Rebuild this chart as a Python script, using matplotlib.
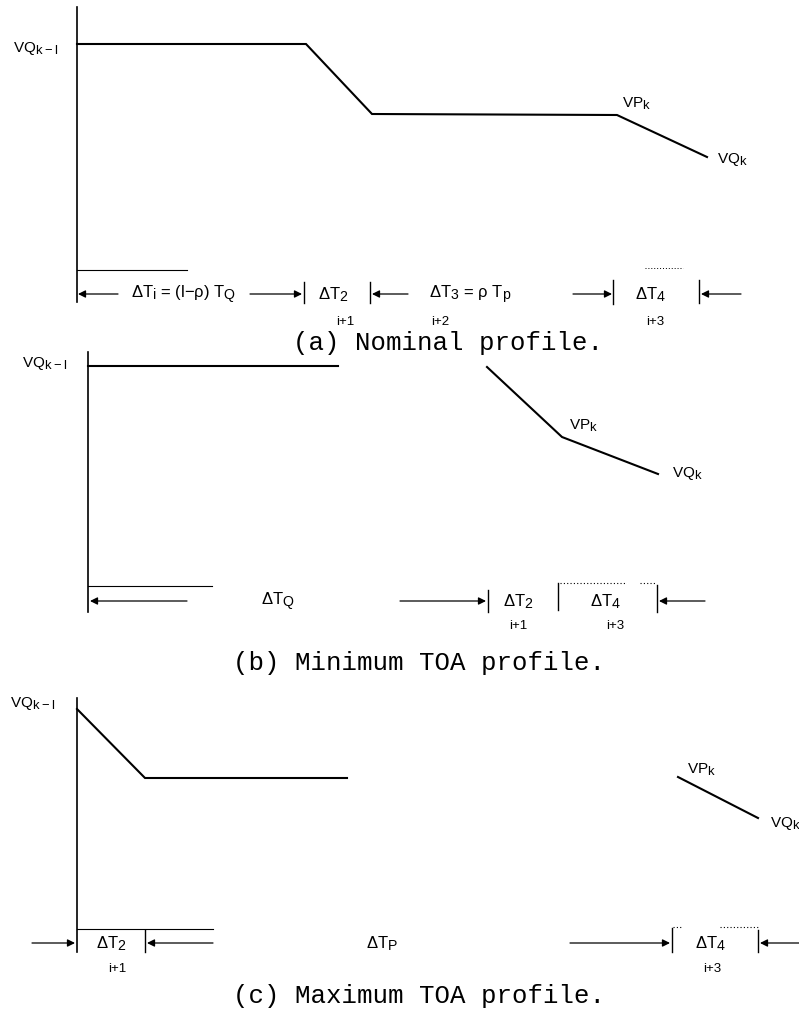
import matplotlib
matplotlib.use("Agg")
import matplotlib.pyplot as plt
import matplotlib._mathtext as mtext

# the drawing uses nearly full-size subscripts
mtext.SHRINK_FACTOR = 0.85
plt.rcParams['mathtext.default'] = 'regular'
SANS = 'Liberation Sans'
MONO = 'Liberation Mono'

# ---- profile data (page pixel units: x to the right, y downwards) ----
# (a) nominal profile
a_axis_x, a_axis_y = 77, (7, 302)
a_prof_x = [77, 306, 372, 617, 707]
a_prof_y = [44, 44, 114, 115, 157]
a_base = (77, 187, 270)
# (b) minimum TOA profile
b_axis_x, b_axis_y = 88, (352, 612)
b_prof1_x = [88, 338]
b_prof1_y = [366, 366]
b_prof2_x = [487, 562, 658]
b_prof2_y = [367, 437, 474]
b_base = (88, 212, 586)
# (c) maximum TOA profile
c_axis_x, c_axis_y = 77, (698, 952)
c_prof1_x = [77, 145, 347]
c_prof1_y = [709, 778, 778]
c_prof2_x = [678, 758]
c_prof2_y = [777, 818]
c_base = (77, 213, 929)

# dimension rows: (tail, tip) arrows, ticks (x, y0, y1), labels (x, text)
a_row_y = 294
a_arrows = [(118, 78), (250, 302), (408, 372), (573, 612), (741, 701)]
a_ticks = [(304, 282, 303), (370, 282, 303), (613, 280, 304), (699, 280, 303)]
a_labels = [(184, r'$\Delta T_i$ = (l$-\rho$) T$_Q$'), (333, r'$\Delta T_2$'),
            (470, r'$\Delta T_3$ = $\rho$ T$_p$'), (650, r'$\Delta T_4$')]
a_idx = [(345, 'i+1'), (440, 'i+2'), (655, 'i+3')]

b_row_y = 601
b_arrows = [(187, 90), (400, 486), (705, 659)]
b_ticks = [(488, 590, 612), (558, 583, 610), (657, 585, 612)]
b_labels = [(278, r'$\Delta T_Q$'), (518, r'$\Delta T_2$'), (605, r'$\Delta T_4$')]
b_idx = [(518, 'i+1'), (615, 'i+3')]

c_row_y = 943
c_arrows = [(32, 75), (213, 147), (570, 670), (799, 760)]
c_ticks = [(145, 930, 952), (672, 928, 952), (758, 930, 952)]
c_labels = [(111, r'$\Delta T_2$'), (382, r'$\Delta T_P$'), (710, r'$\Delta T_4$')]
c_idx = [(117, 'i+1'), (712, 'i+3')]

fig = plt.figure(figsize=(7.99, 10.09), dpi=100)
ax = fig.add_axes([0, 0, 1, 1])
ax.set_xlim(0, 799)
ax.set_ylim(1009, 0)
ax.axis('off')

def panel(axis_x, axis_y, profs, base, row_y, arrows, ticks, labels, idx, idx_y):
    ax.plot([axis_x, axis_x], axis_y, color='k', lw=1.2)
    for px, py in profs:
        ax.plot(px, py, color='k', lw=1.5, solid_joinstyle='miter')
    ax.plot([base[0], base[1]], [base[2], base[2]], color='k', lw=0.8)
    for tail, tip in arrows:
        ax.annotate('', xy=(tip, row_y), xytext=(tail, row_y),
                    arrowprops=dict(arrowstyle='-|>', color='k', lw=0.9,
                                    mutation_scale=11, shrinkA=0, shrinkB=0))
    for tx, y0, y1 in ticks:
        ax.plot([tx, tx], [y0, y1], color='k', lw=1.0)
    for lx, s in labels:
        ax.text(lx, row_y + 1, s, fontsize=12, family=SANS, ha='center', va='center')
    for lx, s in idx:
        ax.text(lx, idx_y, s, fontsize=9.5, family=SANS, ha='center', va='center')

panel(a_axis_x, a_axis_y, [(a_prof_x, a_prof_y)], a_base, a_row_y,
      a_arrows, a_ticks, a_labels, a_idx, 322)
panel(b_axis_x, b_axis_y, [(b_prof1_x, b_prof1_y), (b_prof2_x, b_prof2_y)], b_base,
      b_row_y, b_arrows, b_ticks, b_labels, b_idx, 626)
panel(c_axis_x, c_axis_y, [(c_prof1_x, c_prof1_y), (c_prof2_x, c_prof2_y)], c_base,
      c_row_y, c_arrows, c_ticks, c_labels, c_idx, 969)

# dotted tops of the dT4 brackets
ax.plot([560, 625], [583, 583], color='k', lw=0.8, ls=(0, (1, 2)))
ax.plot([640, 655], [583, 583], color='k', lw=0.8, ls=(0, (1, 2)))
ax.plot([673, 682], [927, 927], color='k', lw=0.8, ls=(0, (1, 2)))
ax.plot([720, 758], [927, 927], color='k', lw=0.8, ls=(0, (1, 2)))
ax.plot([645, 683], [268, 268], color='k', lw=0.7, ls=(0, (1, 2)))

# point labels
lab = dict(fontsize=11, family=SANS, va='baseline', ha='left')
ax.text(13, 52, r'VQ$_{k - l}$', **lab)
ax.text(622, 108, r'VP$_k$', **lab)
ax.text(717, 163, r'VQ$_k$', **lab)
ax.text(22, 367, r'VQ$_{k-l}$', **lab)
ax.text(569, 430, r'VP$_k$', **lab)
ax.text(672, 477, r'VQ$_k$', **lab)
ax.text(10, 707, r'VQ$_{k-l}$', **lab)
ax.text(687, 774, r'VP$_k$', **lab)
ax.text(770, 827, r'VQ$_k$', clip_on=True, **lab)

# captions
cap = dict(fontsize=18.5, family=MONO, ha='left', va='center')
ax.text(293, 343, '(a) Nominal profile.', **cap)
ax.text(233, 663, '(b) Minimum TOA profile.', **cap)
ax.text(233, 996, '(c) Maximum TOA profile.', **cap)

fig.savefig('out.png', dpi=100)
